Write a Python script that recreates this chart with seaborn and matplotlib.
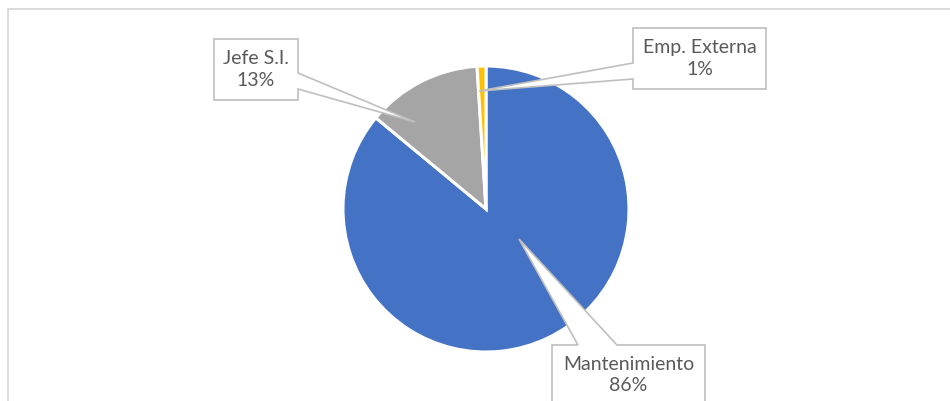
import matplotlib
matplotlib.use("Agg")
import matplotlib.pyplot as plt
from matplotlib.patches import Polygon, Rectangle
import seaborn as sns

# data
labels = ["Mantenimiento", "Jefe S.I.", "Emp. Externa"]
values = [86, 13, 1]
colors = ["#4472C4", "#A5A5A5", "#FFC000"]

# callout layout in pixel coords (x, y from top): box left, top, right, bottom
boxes = {
    "Mantenimiento": (552, 345, 705, 425),
    "Jefe S.I.": (214, 39, 298, 100),
    "Emp. Externa": (633, 28, 766, 89),
}
W, H = 950, 401


def fy(y):
    return H - y


sns.set_theme(style="white")
plt.rcParams["font.family"] = ["Lato", "DejaVu Sans"]

fig = plt.figure(figsize=(9.5, 4.01), dpi=100)
ax = fig.add_axes([0, 0, 1, 1])

cx, cy, r = 486, fy(209), 143
wedges, _ = ax.pie(values, colors=colors, startangle=90, counterclock=False,
                   center=(cx, cy), radius=r,
                   wedgeprops=dict(edgecolor="white", linewidth=2.2))

ax.set_xlim(0, W)
ax.set_ylim(0, H)
ax.set_aspect("equal")
ax.axis("off")

# chart border
ax.add_patch(Rectangle((8, fy(420)), 960, 420 - 9, fill=False,
                       edgecolor="#D9D9D9", lw=1.3, zorder=0))

edge = "#BFBFBF"
tcol = "#595959"
total = sum(values)

# callout shapes (box + pointer)
shapes = {
    "Jefe S.I.": [(214, 39), (298, 39), (298, 73), (415, 122), (298, 89),
                  (298, 100), (214, 100)],
    "Emp. Externa": [(633, 28), (766, 28), (766, 89), (633, 89), (633, 79),
                     (479, 91), (633, 63)],
    "Mantenimiento": [(552, 345), (578, 345), (519, 239), (617, 345),
                      (705, 345), (705, 425), (552, 425)],
}

for lab, val in zip(labels, values):
    pts = [(x, fy(y)) for x, y in shapes[lab]]
    ax.add_patch(Polygon(pts, closed=True, facecolor="white", edgecolor=edge,
                         lw=1.2, zorder=5))
    l, t, rr, b = boxes[lab]
    tx = (l + rr) / 2
    ty = (t + b) / 2 if lab != "Mantenimiento" else 375
    ax.text(tx, fy(ty), f"{lab}\n{round(val / total * 100)}%", ha="center",
            va="center", fontsize=14, color=tcol, linespacing=1.35, zorder=6)

fig.savefig("out.png", dpi=100)
